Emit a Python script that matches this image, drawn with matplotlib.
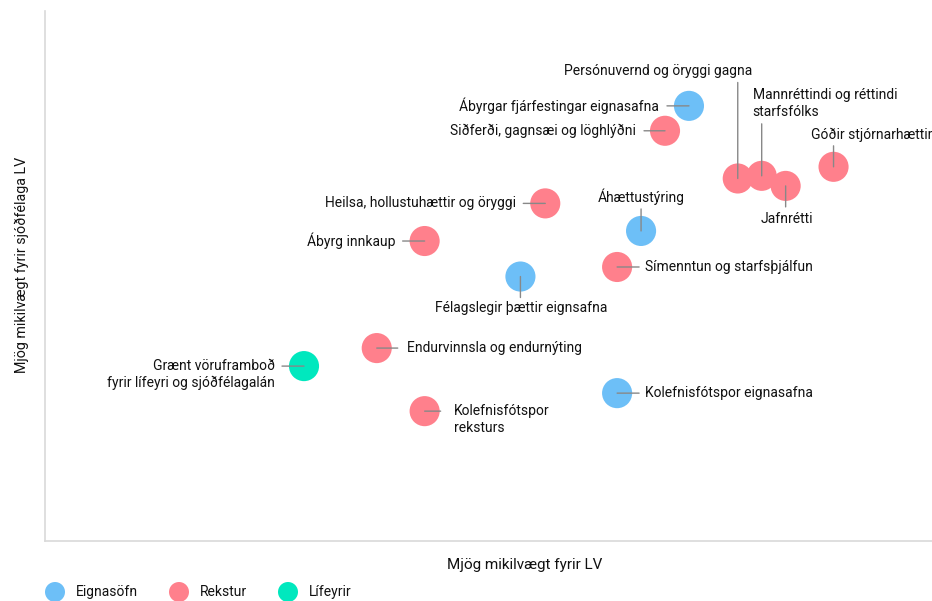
import matplotlib
matplotlib.use("Agg")
import matplotlib.pyplot as plt

plt.rcParams['font.family'] = ['Roboto', 'DejaVu Sans']

# Data (0-10 scale)
labels = [
    "Persónuvernd og öryggi gagna",
    "Ábyrgar fjárfestingar eignasafna",
    "Siðferði, gagnsæi og löghlýðni",
    "Mannréttindi og réttindi\nstarfsfólks",
    "Jafnrétti",
    "Góðir stjórnarhættir",
    "Áhættustýring",
    "Heilsa, hollustuhættir og öryggi",
    "Ábyrg innkaup",
    "Félagslegir þættir eignsafna",
    "Símenntun og starfsþjálfun",
    "Endurvinnsla og endurnýting",
    "Grænt vöruframboð\nfyrir lífeyri og sjóðfélagalán",
    "Kolefnisfótspor eignasafna",
    "Kolefnisfótspor\nreksturs",
]
groups = ["Rekstur", "Eignasöfn", "Rekstur", "Rekstur", "Rekstur", "Rekstur",
          "Eignasöfn", "Rekstur", "Rekstur", "Eignasöfn", "Rekstur", "Rekstur",
          "Lífeyrir", "Eignasöfn", "Rekstur"]
x_vals = [7.81, 7.26, 6.99, 8.08, 8.35, 8.89, 6.72, 5.64, 4.28, 5.36, 6.45, 3.74, 2.92, 6.45, 4.28]
y_vals = [6.84, 8.21, 7.74, 6.89, 6.70, 7.06, 5.85, 6.37, 5.66, 4.99, 5.17, 3.64, 3.30, 2.79, 2.45]

group_names = ["Eignasöfn", "Rekstur", "Lífeyrir"]
group_colors = {"Eignasöfn": "#6dbff7", "Rekstur": "#ff808c", "Lífeyrir": "#00e8be"}

# Label placement: (line end dx, dy, text dx, dy, ha) in pixels
layout = [
    ((0, 96), (-80, 107), 'center'),
    ((-22, 0), (-30, 0), 'right'),
    ((-21, 0), (-29, 0), 'right'),
    ((0, 52), (-9, 72), 'left'),
    ((0, -21), (1, -33), 'center'),
    ((0, 21), (-23, 32), 'left'),
    ((0, 22), (0, 34), 'center'),
    ((-22, 0), (-29, 0), 'right'),
    ((-22, 0), (-29, 0), 'right'),
    ((0, -21), (1, -31), 'center'),
    ((22, 0), (28, 0), 'left'),
    ((21, 0), (30, 0), 'left'),
    ((-22, 0), (-29, -8), 'right'),
    ((22, 0), (28, 0), 'left'),
    ((16, 0), (29, -8), 'left'),
]

fig = plt.figure(figsize=(9.32, 6.01), dpi=100)
ax = fig.add_axes([45/932, 60/601, 887/932, 530/601])
ax.set_xlim(0, 10)
ax.set_ylim(0, 10)

for g in group_names:
    xs = [x for x, gg in zip(x_vals, groups) if gg == g]
    ys = [y for y, gg in zip(y_vals, groups) if gg == g]
    ax.scatter(xs, ys, s=470, color=group_colors[g], edgecolors='none', zorder=2)

for lab, x, y, (le, te, ha) in zip(labels, x_vals, y_vals, layout):
    ax.annotate('', xy=(x, y), xytext=le, textcoords='offset pixels',
                arrowprops=dict(arrowstyle='-', color='#888888', lw=1.0,
                                shrinkA=0, shrinkB=0), zorder=3)
    ax.annotate(lab, xy=(x, y), xytext=te, textcoords='offset pixels',
                ha=ha, va='center', multialignment=ha, fontsize=10,
                color='#111111', linespacing=1.25, zorder=4,
                annotation_clip=False)

for s in ['top', 'right']:
    ax.spines[s].set_visible(False)
for s in ['left', 'bottom']:
    ax.spines[s].set_color('#d9d9d9')
    ax.spines[s].set_linewidth(1.2)
ax.set_xticks([])
ax.set_yticks([])

fig.text(525/932, 1 - 565/601, "Mjög mikilvægt fyrir LV", ha='center', va='center',
         fontsize=11, color='#111111')
fig.text(22/932, 1 - 265/601, "Mjög mikilvægt fyrir sjóðfélaga LV", ha='center', va='center',
         rotation=90, fontsize=10.3, color='#111111')

# Legend
leg_x = [55, 179, 288]
for g, lx in zip(group_names, leg_x):
    fig.patches.append(matplotlib.patches.Ellipse((lx/932, 1 - 592/601), 20/932, 20/601,
                                                  transform=fig.transFigure,
                                                  color=group_colors[g], ec='none'))
    fig.text((lx + 21)/932, 1 - 592/601, g, ha='left', va='center',
             fontsize=10, color='#111111')

fig.savefig("out.png", dpi=100)
